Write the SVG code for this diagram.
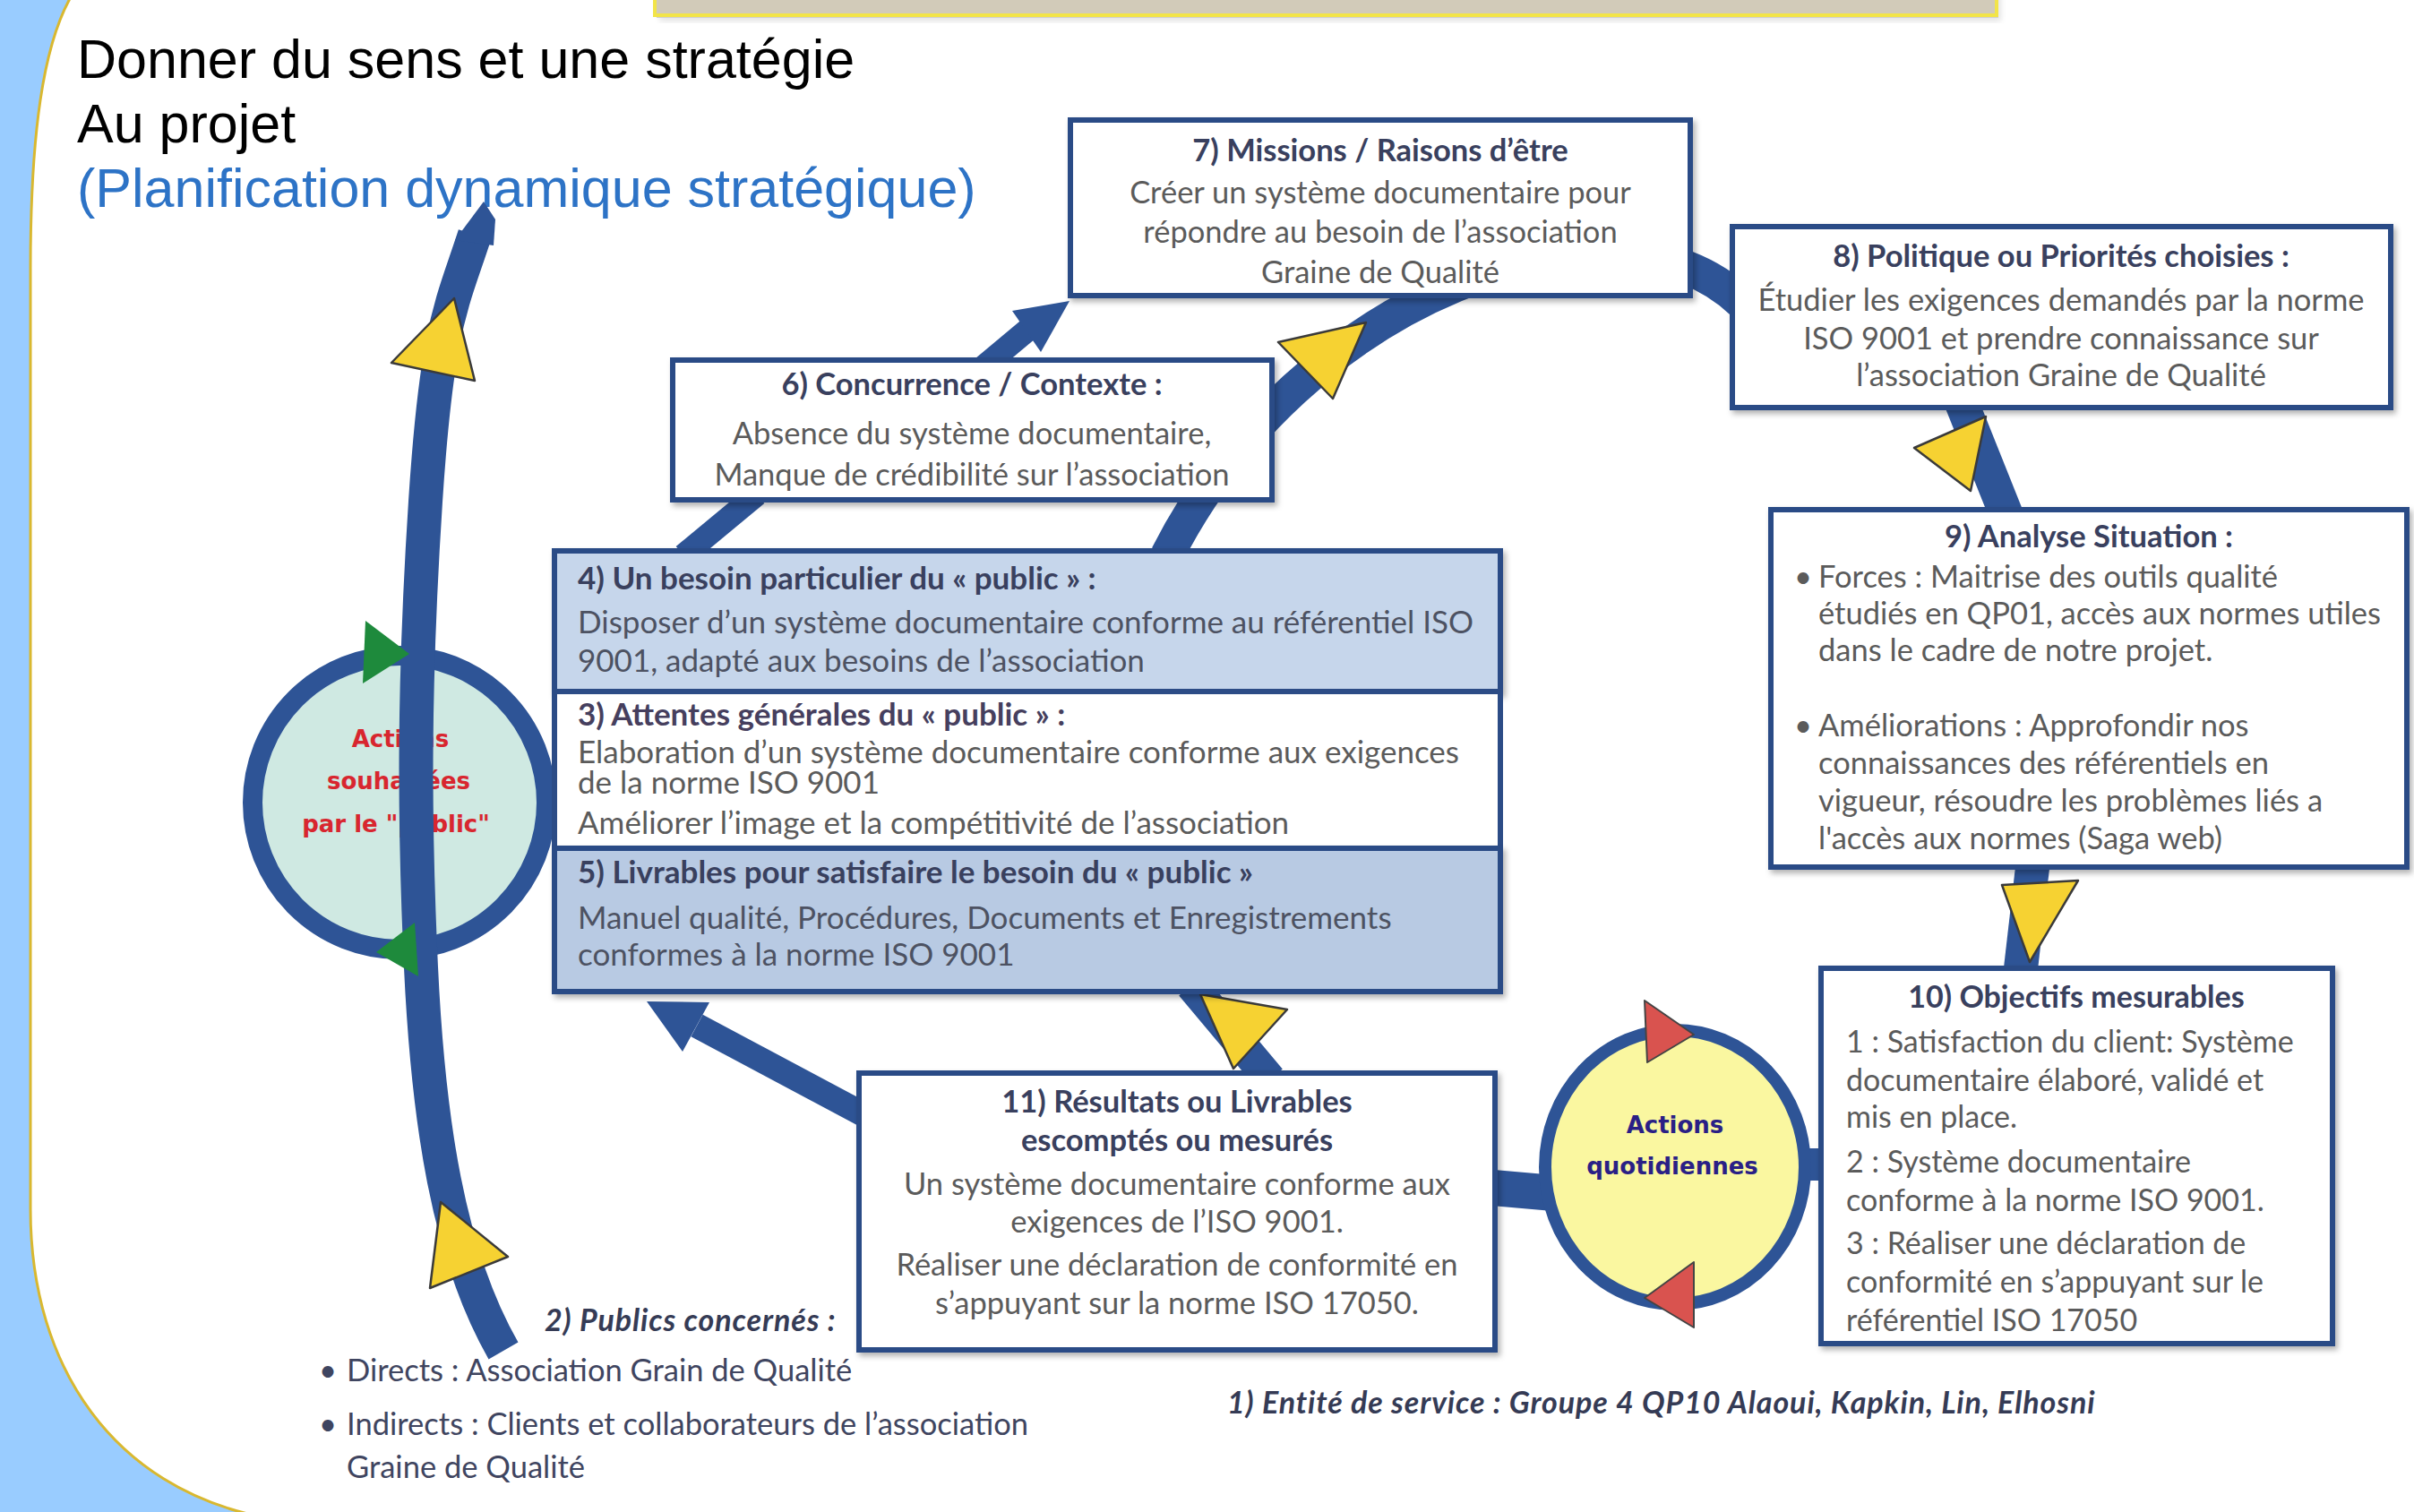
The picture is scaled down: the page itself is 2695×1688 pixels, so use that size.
<svg xmlns="http://www.w3.org/2000/svg" width="2695" height="1688" viewBox="0 0 2695 1688">
<defs>
<filter id="sh" x="-5%" y="-5%" width="115%" height="120%"><feDropShadow dx="3" dy="4" stdDeviation="3" flood-color="#000" flood-opacity="0.3"/></filter>
<style>
.box{fill:#fff;stroke:#2C4C86;stroke-width:6}
.band{fill:none;stroke:#2E5496;stroke-linecap:butt}
.tri{fill:#F6D232;stroke:#3A3A3A;stroke-width:2.5;stroke-linejoin:round}
.red{fill:#D9534F;stroke:#444;stroke-width:2;stroke-linejoin:round}
.grn{fill:#1E8A3C}
.t{font-family:Lato,"Liberation Sans",sans-serif;font-size:34.5px;fill:#5B5B5B}
.big .t{font-size:35px}
.s .t{font-size:34px}
.h{font-weight:bold;fill:#39405E}
.c{text-anchor:middle}
.ttl{font-family:"Liberation Sans",Arial,sans-serif;font-size:61px;fill:#000}
.bi{font-family:Lato,"Liberation Sans",sans-serif;font-weight:bold;font-style:italic;font-size:34px;letter-spacing:0.9px;fill:#353B55}
.ct{font-family:"DejaVu Sans",Verdana,sans-serif;font-weight:bold;font-size:26px;text-anchor:middle}
.pb .t{font-size:34.5px;fill:#3F4560}
</style>
</defs>
<rect width="2695" height="1688" fill="#99CCFF"/>
<path d="M80,-5 C48,50 34,150 34,300 L34,1350 C34,1530 130,1660 290,1693 L2700,1693 L2700,-5 Z" fill="#fff" stroke="#D9B830" stroke-width="3"/>
<g id="topbar">
<rect x="733" y="-20" width="1498" height="40" fill="#777" opacity="0.35" filter="url(#sh)"/>
<rect x="731" y="-20" width="1498" height="37" fill="#D2CBB9" stroke="#F2E448" stroke-width="4"/>
</g>
<g id="title">
<text class="ttl" x="86" y="87">Donner du sens et une stratégie</text>
<text class="ttl" x="86" y="159">Au projet</text>
<text class="ttl" x="86" y="231" style="fill:#2D73C6">(Planification dynamique stratégique)</text>
</g>
<g id="circle-public">
<circle cx="446" cy="896" r="164" fill="#CFE9E2" stroke="#2E5496" stroke-width="22"/>
<text class="ct" x="447" y="834" fill="#D8262F">Actions</text>
<text class="ct" x="445" y="881" fill="#D8262F">souhaitées</text>
<text class="ct" x="442" y="929" fill="#D8262F">par le "public"</text>
</g>
<g id="connectors">
<path class="band" stroke-width="38" d="M562,1508 C500,1400 478,1250 470,1080 S462,760 475,560 S505,340 530,262"/>
<polygon points="508,268 551,274 553,245 540,225" fill="#2E5496"/>
<polygon class="tri" points="507,333 437,405 530,425"/>
<polygon class="tri" points="492,1342 567,1403 480,1438"/>
<polygon class="grn" points="408,693 457,730 405,763"/>
<polygon class="grn" points="420,1063 463,1030 467,1090"/>
<path class="band" stroke-width="38" d="M1303,620 C1450,330 1800,200 1945,338"/>
<polygon class="tri" points="1427,382 1525,360 1488,445"/>
<path class="band" stroke-width="26" d="M763,620 L845,552"/>
<path class="band" stroke-width="26" d="M1095,412 L1150,366"/>
<polygon points="1130,347 1194,336 1162,393" fill="#2E5496"/>
<path class="band" stroke-width="28" d="M975,1250 L778,1145"/>
<polygon points="722,1118 792,1119 762,1174" fill="#2E5496"/>
<path class="band" stroke-width="36" d="M1330,1100 L1418,1205"/>
<polygon class="tri" points="1340,1110 1437,1127 1377,1193"/>
<path class="band" stroke-width="40" d="M1655,1325 L1735,1332"/>
<path class="band" stroke-width="36" d="M2005,1300 L2045,1300"/>
<path class="band" stroke-width="38" d="M2190,450 L2242,580"/>
<polygon class="tri" points="2137,500 2217,465 2200,548"/>
<path class="band" stroke-width="38" d="M2270,960 L2255,1090"/>
<polygon class="tri" points="2235,988 2320,983 2266,1074"/>
</g>
<g id="circle-quotidiennes">
<ellipse cx="1870" cy="1303" rx="145" ry="153" fill="#FAF7A0" stroke="#2E5496" stroke-width="14"/>
<polygon class="red" points="1836,1117 1891,1155 1839,1186"/>
<polygon class="red" points="1891,1409 1836,1449 1891,1482"/>
<text class="ct" x="1870" y="1265" fill="#2A1F86">Actions</text>
<text class="ct" x="1867" y="1311" fill="#2A1F86">quotidiennes</text>
</g>
<g id="box7">
<rect class="box" x="1195" y="134" width="692" height="196" filter="url(#sh)"/>
<text class="t h c" x="1541" y="180">7) Missions / Raisons d’être</text>
<text class="t c" x="1541" y="227">Créer un système documentaire pour</text>
<text class="t c" x="1541" y="271">répondre au besoin de l’association</text>
<text class="t c" x="1541" y="316">Graine de Qualité</text>
</g>
<g id="box8">
<rect class="box" x="1934" y="253" width="735" height="202" filter="url(#sh)"/>
<text class="t h c" x="2301" y="298">8) Politique ou Priorités choisies :</text>
<text class="t c" x="2301" y="347">Étudier les exigences demandés par la norme</text>
<text class="t c" x="2301" y="390">ISO 9001 et prendre connaissance sur</text>
<text class="t c" x="2301" y="431">l’association Graine de Qualité</text>
</g>
<g id="box6">
<rect class="box" x="751" y="402" width="669" height="156" filter="url(#sh)"/>
<text class="t h c" x="1085" y="441">6) Concurrence  / Contexte :</text>
<text class="t c" x="1085" y="496">Absence du système documentaire,</text>
<text class="t c" x="1085" y="542">Manque de crédibilité sur l’association</text>
</g>
<g class="big">
<g id="box4">
<rect class="box" x="619" y="615" width="1056" height="157" style="fill:#C6D6EB" filter="url(#sh)"/>
<text class="t h" x="645" y="658">4) Un besoin particulier du « public » :</text>
<text class="t" x="645" y="707" style="fill:#4D5262">Disposer d’un système documentaire conforme au référentiel ISO</text>
<text class="t" x="645" y="750" style="fill:#4D5262">9001, adapté aux besoins de l’association</text>
</g>
<g id="box3">
<rect class="box" x="619" y="772" width="1056" height="175"/>
<text class="t h" x="645" y="810" style="fill:#463F5E">3) Attentes générales du « public » :</text>
<text class="t" x="645" y="852">Elaboration d’un système documentaire conforme aux exigences</text>
<text class="t" x="645" y="886">de la norme ISO 9001</text>
<text class="t" x="645" y="931">Améliorer l’image et la compétitivité de l’association</text>
</g>
<g id="box5">
<rect class="box" x="619" y="947" width="1056" height="160" style="fill:#B8CAE3" filter="url(#sh)"/>
<text class="t h" x="645" y="986">5) Livrables pour  satisfaire le besoin du « public »</text>
<text class="t" x="645" y="1037" style="fill:#4D5262">Manuel qualité, Procédures,  Documents et Enregistrements</text>
<text class="t" x="645" y="1078" style="fill:#4D5262">conformes à la norme ISO 9001</text>
</g>
</g>
<g id="box9">
<rect class="box" x="1977" y="569" width="710" height="399" filter="url(#sh)"/>
<text class="t h c" x="2332" y="611">9) Analyse Situation :</text>
<text class="t" x="2003" y="656">•</text>
<text class="t" x="2030" y="656">Forces : Maitrise des outils qualité</text>
<text class="t" x="2030" y="697">étudiés en QP01, accès aux normes utiles</text>
<text class="t" x="2030" y="738">dans le cadre de notre projet.</text>
<text class="t" x="2003" y="822">•</text>
<text class="t" x="2030" y="822">Améliorations : Approfondir nos</text>
<text class="t" x="2030" y="864">connaissances des référentiels en</text>
<text class="t" x="2030" y="906">vigueur, résoudre les problèmes liés a</text>
<text class="t" x="2030" y="948">l'accès  aux normes (Saga web)</text>
</g>
<g id="box10" class="s">
<rect class="box" x="2033" y="1081" width="571" height="419" filter="url(#sh)"/>
<text class="t h c" x="2318" y="1125">10) Objectifs mesurables</text>
<text class="t" x="2061" y="1175">1 : Satisfaction du client: Système</text>
<text class="t" x="2061" y="1218">documentaire élaboré, validé et</text>
<text class="t" x="2061" y="1259">mis en place.</text>
<text class="t" x="2061" y="1309">2 : Système documentaire</text>
<text class="t" x="2061" y="1352">conforme à la norme ISO 9001.</text>
<text class="t" x="2061" y="1400">3 :   Réaliser une déclaration de</text>
<text class="t" x="2061" y="1443">conformité en s’appuyant sur le</text>
<text class="t" x="2061" y="1486">référentiel ISO 17050</text>
</g>
<g id="box11">
<rect class="box" x="959" y="1198" width="710" height="309" filter="url(#sh)"/>
<text class="t h c" x="1314" y="1242">11) Résultats ou Livrables</text>
<text class="t h c" x="1314" y="1285">escomptés ou mesurés</text>
<text class="t c" x="1314" y="1334">Un système documentaire conforme aux</text>
<text class="t c" x="1314" y="1376">exigences de l’ISO 9001.</text>
<text class="t c" x="1314" y="1424">Réaliser une déclaration de conformité en</text>
<text class="t c" x="1314" y="1467">s’appuyant sur la norme ISO 17050.</text>
</g>
<g id="publics" class="pb">
<text class="bi" x="608" y="1486">2) Publics concernés :</text>
<text class="t" x="356" y="1542">•</text>
<text class="t" x="387" y="1542">Directs : Association Grain de Qualité</text>
<text class="t" x="356" y="1602">•</text>
<text class="t" x="387" y="1602">Indirects : Clients et collaborateurs de l’association</text>
<text class="t" x="387" y="1650">Graine de Qualité</text>
</g>
<g id="entite">
<text class="bi" x="1370" y="1578">1) Entité de service : Groupe 4 QP10 Alaoui,  Kapkin, Lin, Elhosni</text>
</g>
</svg>
